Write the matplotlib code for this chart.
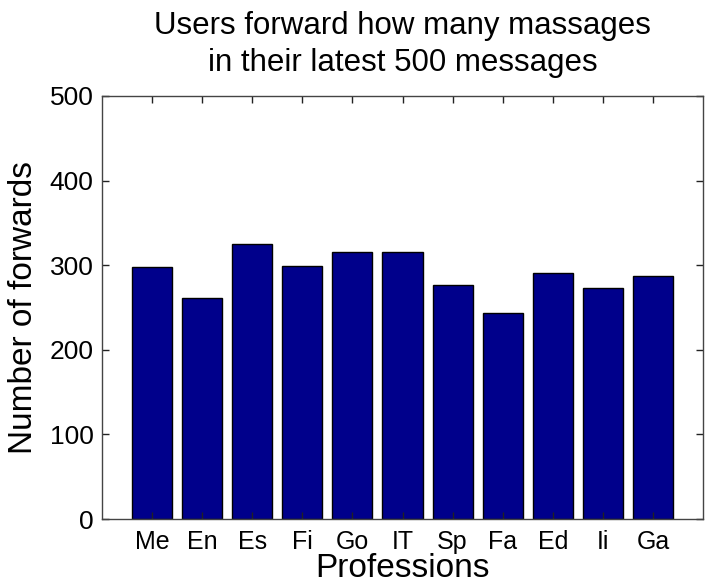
import matplotlib.pyplot as plt
import numpy as np

plt.rcParams['font.family'] = ['Liberation Sans', 'DejaVu Sans']

# professions and forward counts
professions = ['Me', 'En', 'Es', 'Fi', 'Go', 'IT', 'Sp', 'Fa', 'Ed', 'Ii', 'Ga']
forwards = [298, 261, 325, 299, 316, 316, 277, 243, 291, 273, 287]

fig = plt.figure(figsize=(7.05, 5.87), dpi=100)
ax = fig.add_axes([0.1447, 0.1158, 0.8525, 0.7207])

x = np.arange(1, len(professions) + 1)
ax.bar(x, forwards, width=0.8, color='#00008B', edgecolor='black', linewidth=1)

ax.set_xlim(0, 12)
ax.set_ylim(0, 500)
ax.set_xticks(x)
ax.set_xticklabels(professions, fontsize=18)
ax.set_yticks([0, 100, 200, 300, 400, 500])
ax.tick_params(axis='y', labelsize=19, pad=6)
ax.tick_params(direction='in', top=True, right=True, length=5, width=1, color='#222222')
ax.tick_params(axis='x', pad=8)

for s in ax.spines.values():
    s.set_color('#444444')
    s.set_linewidth(1)

ax.set_xlabel('Professions', fontsize=24, va='center')
ax.xaxis.set_label_coords(0.5, -0.118)
ax.set_ylabel('Number of forwards', fontsize=24, labelpad=8)
ax.set_title('Users forward how many massages\nin their latest 500 messages', fontsize=22.5, pad=18, linespacing=1.3)

fig.savefig('out.png', dpi=100)
